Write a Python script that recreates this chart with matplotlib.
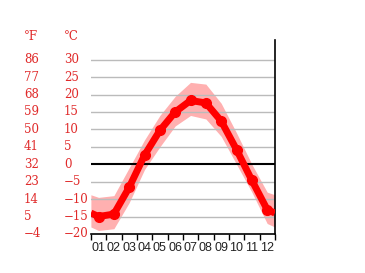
import matplotlib.pyplot as plt
import matplotlib.transforms as mtransforms
import numpy as np

months = ['01', '02', '03', '04', '05', '06', '07', '08', '09', '10', '11', '12']
t_mean = [-15.0, -14.3, -6.6, 2.6, 9.7, 15.0, 18.3, 17.6, 12.4, 4.2, -4.6, -13.0]
t_high = [-9.5, -9.0, -1.0, 7.0, 14.0, 19.5, 23.5, 23.0, 17.5, 9.0, 0.0, -8.0]
t_low = [-19.0, -18.5, -11.0, -1.5, 5.0, 11.0, 14.0, 13.0, 8.0, 0.0, -8.0, -17.0]
c_ticks = [30, 25, 20, 15, 10, 5, 0, -5, -10, -15, -20]
f_ticks = [86, 77, 68, 59, 50, 41, 32, 23, 14, 5, -4]

# wrap Dec/Jan so the curves reach both edges
def wrap(v):
    edge = (v[0] + v[-1]) / 2
    return [edge] + list(v) + [edge]

x = [0] + [i + 0.5 for i in range(12)] + [12]

fig = plt.figure(figsize=(3.65, 2.73), dpi=100)
ax = fig.add_axes([0.249, 0.143, 0.504, 0.711])

ax.fill_between(x, wrap(t_low), wrap(t_high), color='#ffb0b0', lw=0)
for c in c_ticks[:-1]:
    if c != 0:
        ax.axhline(c, color='#bbbbbb', lw=1, zorder=1)
ax.axhline(0, color='black', lw=1.5, zorder=2)
ax.plot(x, wrap(t_mean), color='red', lw=5, zorder=3, solid_capstyle='butt')
ax.plot(x[1:-1], t_mean, 'o', color='red', ms=7, zorder=4)

ax.set_xlim(0, 12)
ax.set_ylim(-20, 35.7)
for s in ['top', 'left']:
    ax.spines[s].set_visible(False)
ax.spines['bottom'].set_linewidth(1.2)
ax.spines['right'].set_linewidth(1.2)
ax.set_yticks([])
ax.set_xticks(range(13))
ax.set_xticklabels([])
ax.tick_params(axis='x', which='major', length=4.5, width=1, direction='out')
ax.set_xticks([i + 0.5 for i in range(12)], minor=True)
ax.set_xticklabels(months, minor=True, fontsize=9, color='#222222', family='Liberation Sans')
ax.tick_params(axis='x', which='minor', length=0, pad=5.5)

tr = mtransforms.blended_transform_factory(fig.transFigure, ax.transData)
red = '#e02a2a'
for c, f in zip(c_ticks, f_ticks):
    fig.text(64 / 365, c, str(c).replace('-', '\u2212'), transform=tr, color=red,
             fontsize=8.5, family='DejaVu Serif', va='center', ha='left')
    fig.text(24 / 365, c, str(f).replace('-', '\u2212'), transform=tr, color=red,
             fontsize=8.5, family='DejaVu Serif', va='center', ha='left')
fig.text(24 / 365, 1 - 36 / 273, '°F', color=red, fontsize=8.5, family='DejaVu Serif', va='center')
fig.text(64 / 365, 1 - 36 / 273, '°C', color=red, fontsize=8.5, family='DejaVu Serif', va='center')

fig.savefig('out.png', dpi=100)
